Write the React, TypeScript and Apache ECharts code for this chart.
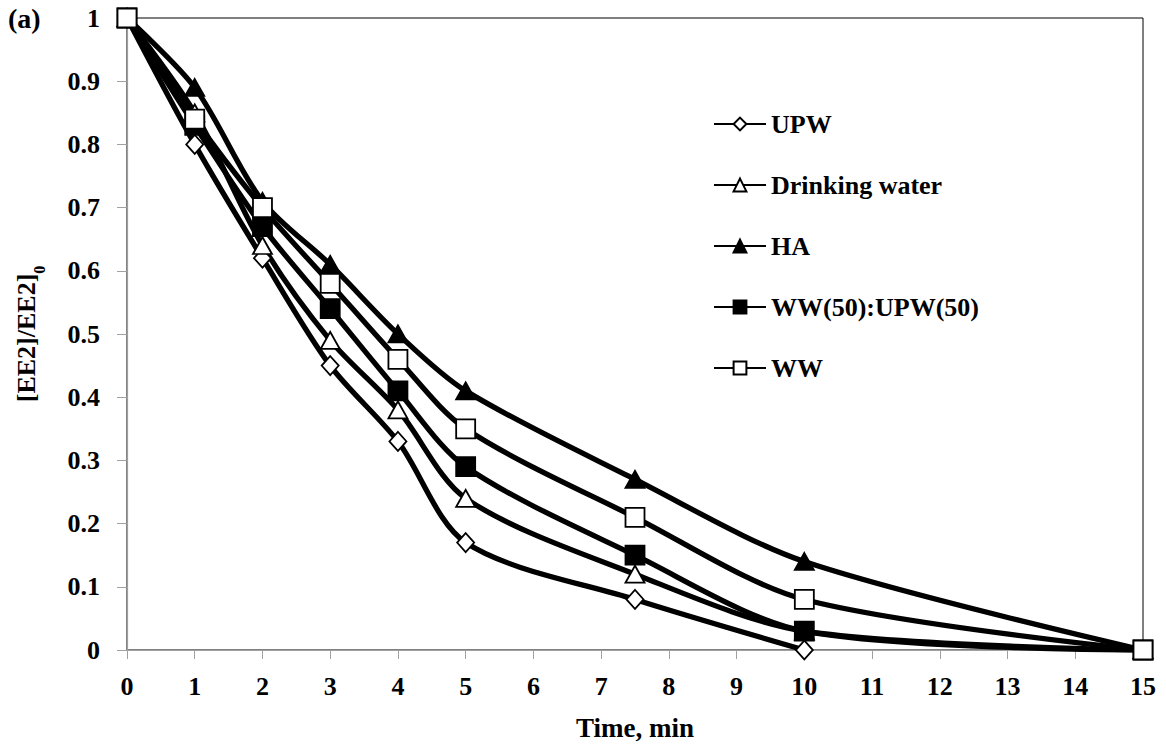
import React, { useEffect, useRef } from "react";
import * as echarts from "echarts";

const xValues = [0, 1, 2, 3, 4, 5, 7.5, 10, 15];
const upw = [1, 0.8, 0.62, 0.45, 0.33, 0.17, 0.08, 0.0];
const drinkingWater = [1, 0.85, 0.64, 0.49, 0.38, 0.24, 0.12, 0.03, 0];
const ha = [1, 0.89, 0.71, 0.61, 0.5, 0.41, 0.27, 0.14, 0];
const ww50 = [1, 0.83, 0.67, 0.54, 0.41, 0.29, 0.15, 0.03, 0];
const ww = [1, 0.84, 0.7, 0.58, 0.46, 0.35, 0.21, 0.08, 0];
const seriesNames = ["UPW", "Drinking water", "HA", "WW(50):UPW(50)", "WW"];
const xTicks = { min: 0, max: 15, interval: 1 };
const yTicks = { min: 0, max: 1, interval: 0.1 };

const FONT = "Liberation Serif";

function pairs(ys: number[]) {
  return ys.map((y, i) => [xValues[i], y]);
}

export default function App() {
  const ref = useRef<HTMLDivElement>(null);
  useEffect(() => {
    if (!ref.current) return;
    const chart = echarts.init(ref.current, null, { renderer: "svg" });
    const lineW = 5.3;
    const mk = (
      name: string,
      data: number[],
      symbol: string,
      size: number | number[],
      fill: string
    ) => ({
      type: "line",
      name,
      data: pairs(data),
      smooth: 0.3,
      symbol,
      symbolSize: size,
      showAllSymbol: true,
      lineStyle: { color: "#000", width: lineW },
      itemStyle: { color: fill, borderColor: "#000", borderWidth: 1.8 },
      emphasis: { disabled: true },
    });
    chart.setOption({
      animation: false,
      backgroundColor: "#fff",
      textStyle: { fontFamily: FONT },
      grid: {
        left: 127,
        right: 23,
        top: 18,
        bottom: 94,
        show: true,
        borderColor: "#000",
        borderWidth: 1,
      },
      graphic: [
        {
          type: "text",
          left: 8,
          top: 4,
          style: {
            text: "(a)",
            fontFamily: FONT,
            fontWeight: "bold",
            fontSize: 28,
            fill: "#000",
          },
        },
      ],
      legend: {
        orient: "vertical",
        left: 708,
        top: 106,
        itemWidth: 52,
        itemHeight: 16,
        itemGap: 35,
        data: seriesNames,
        textStyle: {
          fontFamily: FONT,
          fontWeight: "bold",
          fontSize: 26,
          color: "#000",
        },
      },
      xAxis: {
        type: "value",
        min: xTicks.min,
        max: xTicks.max,
        interval: xTicks.interval,
        name: "Time, min",
        nameLocation: "middle",
        nameGap: 64,
        nameTextStyle: {
          fontFamily: FONT,
          fontWeight: "bold",
          fontSize: 27,
          color: "#000",
        },
        axisLine: { lineStyle: { color: "#a0a0a0", width: 1.2 } },
        axisTick: { show: true, length: 9, lineStyle: { color: "#a0a0a0" } },
        splitLine: { show: false },
        axisLabel: {
          fontFamily: FONT,
          fontWeight: "bold",
          fontSize: 26,
          color: "#000",
          margin: 23,
        },
      },
      yAxis: {
        type: "value",
        min: yTicks.min,
        max: yTicks.max,
        interval: yTicks.interval,
        name: "{a|[EE2]/EE2]}{b|0}",
        nameLocation: "middle",
        nameGap: 88,
        nameRotate: 90,
        nameTextStyle: {
          rich: {
            a: {
              fontFamily: FONT,
              fontWeight: "bold",
              fontSize: 26,
              color: "#000",
              lineHeight: 30,
              verticalAlign: "bottom",
            },
            b: {
              fontFamily: FONT,
              fontWeight: "bold",
              fontSize: 16,
              color: "#000",
              lineHeight: 30,
              verticalAlign: "bottom",
              padding: [0, 0, -8, 0],
            },
          },
        },
        axisLine: { show: true, lineStyle: { color: "#a0a0a0", width: 1.2 } },
        axisTick: { show: true, length: 10, lineStyle: { color: "#a0a0a0" } },
        splitLine: { show: false },
        axisLabel: {
          fontFamily: FONT,
          fontWeight: "bold",
          fontSize: 26,
          color: "#000",
          margin: 27,
          formatter: (v: number) => String(Math.round(v * 10) / 10),
        },
      },
      series: [
        mk(seriesNames[0], upw, "diamond", [17, 19], "#fff"),
        mk(seriesNames[1], drinkingWater, "triangle", [19, 17], "#fff"),
        mk(seriesNames[2], ha, "triangle", [19, 17], "#000"),
        mk(seriesNames[3], ww50, "rect", 19, "#000"),
        mk(seriesNames[4], ww, "rect", 19, "#fff"),
      ],
    });
    return () => chart.dispose();
  }, []);
  return (
    <div
      ref={ref}
      style={{ position: "absolute", left: 0, top: 0, width: 1166, height: 746 }}
    />
  );
}
